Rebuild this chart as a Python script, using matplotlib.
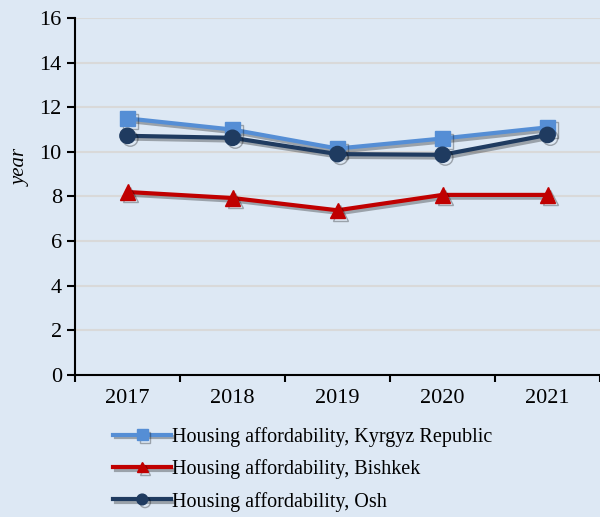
import numpy as np
import matplotlib.pyplot as plt
import matplotlib.patheffects as pe

years = ["2017", "2018", "2019", "2020", "2021"]
kyrgyz = [11.5, 11.0, 10.15, 10.6, 11.1]
bishkek = [8.2, 7.93, 7.38, 8.07, 8.07]
osh = [10.72, 10.63, 9.9, 9.87, 10.76]

plt.rcParams['font.family'] = ['Liberation Serif', 'DejaVu Serif']
bg = "#DDE8F4"

fig = plt.figure(figsize=(6, 5.17), dpi=100, facecolor=bg)
ax = fig.add_axes([0.125, 0.275, 0.875, 0.69], facecolor=bg)

x = np.arange(len(years))
shadow = [pe.SimpleLineShadow(offset=(2, -2), alpha=0.3, shadow_color="black"), pe.Normal()]

ax.plot(x, kyrgyz, color="#558ED5", lw=3, marker="s", ms=11, label="Housing affordability, Kyrgyz Republic",
        path_effects=shadow, zorder=3)
ax.plot(x, bishkek, color="#C00000", lw=3, marker="^", ms=11, label="Housing affordability, Bishkek",
        path_effects=shadow, zorder=3)
ax.plot(x, osh, color="#1F3B60", lw=3, marker="o", ms=11, label="Housing affordability, Osh",
        path_effects=shadow, zorder=4)

ax.set_xlim(-0.5, 4.5)
ax.set_ylim(0, 16)
ax.set_yticks(np.arange(0, 17, 2))
ax.set_xticks(x)
ax.set_xticklabels(years)
ax.set_xticks(np.arange(-0.5, 4.6, 1), minor=True)
ax.tick_params(axis="x", which="major", length=0, labelsize=16, pad=10)
ax.tick_params(axis="x", which="minor", length=5, width=1.5, direction="out")
ax.tick_params(axis="y", labelsize=16, length=6, width=1.5, direction="out")
ax.grid(axis="y", color="#D9D9D9", lw=1.5, zorder=0)
ax.set_axisbelow(True)

for s in ["top", "right"]:
    ax.spines[s].set_visible(False)
for s in ["left", "bottom"]:
    ax.spines[s].set_linewidth(1.5)

ax.set_ylabel("year", fontsize=15, style="italic")
ax.yaxis.set_label_coords(-0.085, 0.58)

fig.legend(loc="upper left", bbox_to_anchor=(0.175, 0.19), frameon=False, fontsize=14.5,
           handlelength=2.9, handletextpad=0.05, labelspacing=0.62, borderaxespad=0, markerscale=0.7)

fig.savefig("out.png", facecolor=bg)
